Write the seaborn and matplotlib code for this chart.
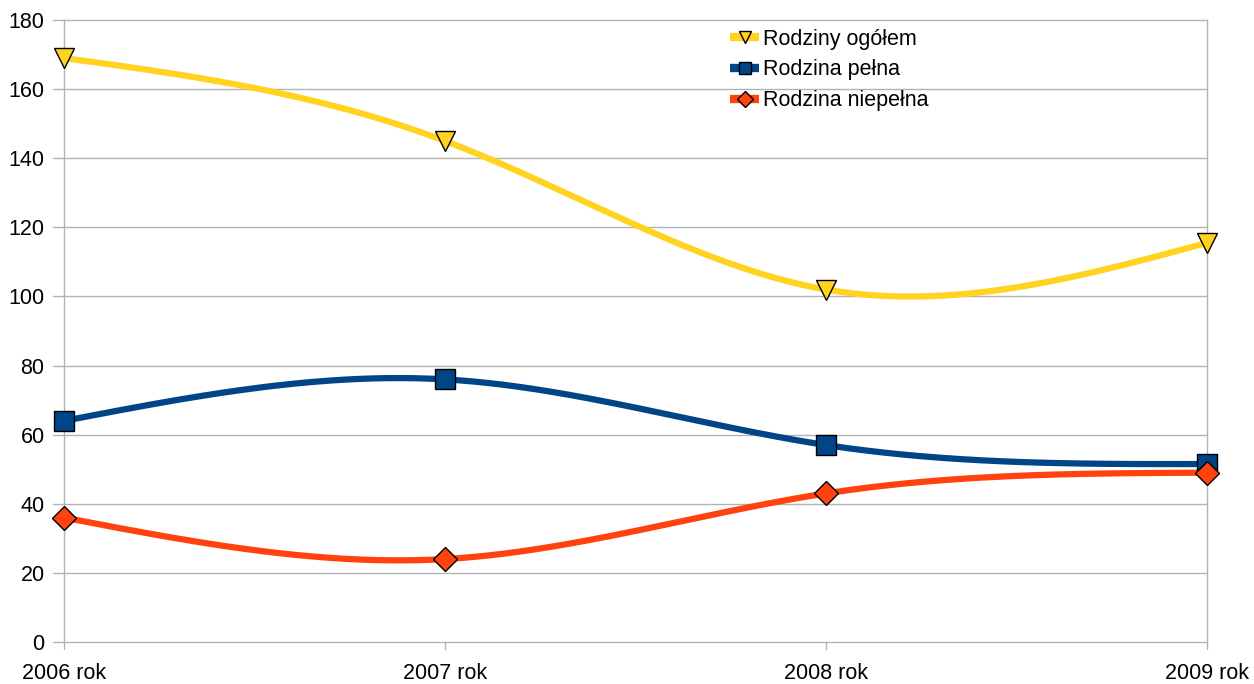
import numpy as np
import pandas as pd
import matplotlib
matplotlib.use("Agg")
import matplotlib.pyplot as plt
from matplotlib.lines import Line2D
import seaborn as sns

years = ["2006 rok", "2007 rok", "2008 rok", "2009 rok"]
series_names = ["Rodziny ogółem", "Rodzina pełna", "Rodzina niepełna"]
ogolem = [169, 145, 102, 115.5]
pelna = [64, 76, 57, 51.5]
niepelna = [36, 24, 43, 49]

colors = ["#FFD320", "#004586", "#FF420E"]
markers = ["v", "s", "D"]
msizes = [14, 14, 12]


def natural_spline(y, n=400):
    """Natural cubic spline through equally spaced points x = 0..len(y)-1."""
    y = np.asarray(y, float)
    k = len(y)
    A = np.zeros((k, k))
    b = np.zeros(k)
    A[0, 0] = A[-1, -1] = 1.0
    for i in range(1, k - 1):
        A[i, i - 1], A[i, i], A[i, i + 1] = 1.0, 4.0, 1.0
        b[i] = 6.0 * (y[i - 1] - 2 * y[i] + y[i + 1])
    M = np.linalg.solve(A, b)
    xs = np.linspace(0, k - 1, n)
    seg = np.minimum(xs.astype(int), k - 2)
    t = xs - seg
    ys = (y[seg] * (1 - t) + y[seg + 1] * t
          + ((1 - t) ** 3 - (1 - t)) * M[seg] / 6.0
          + (t ** 3 - t) * M[seg + 1] / 6.0)
    return xs, ys


sns.set_theme(style="white")
plt.rcParams["font.family"] = ["Liberation Sans", "DejaVu Sans"]
plt.rcParams["text.color"] = "black"

fig = plt.figure(figsize=(12.54, 6.84), dpi=100)
ax = fig.add_axes([64 / 1254, 1 - 642 / 684, (1207 - 64) / 1254, (642 - 20) / 684])

for v in np.arange(0, 181, 20):
    ax.axhline(v, color="#b3b3b3", lw=1.0, zorder=0, clip_on=False)

for name, vals, c, m, ms in zip(series_names, [ogolem, pelna, niepelna], colors, markers, msizes):
    xs, ys = natural_spline(vals)
    curve = pd.DataFrame({"x": xs, "y": ys})
    sns.lineplot(data=curve, x="x", y="y", ax=ax, color=c, lw=4.5, zorder=2,
                 solid_capstyle="butt")
    pts = pd.DataFrame({"x": np.arange(len(vals)), "y": vals})
    ax.plot(pts["x"], pts["y"], ls="none", marker=m, ms=ms, mfc=c, mec="black",
            mew=1.0, zorder=3, clip_on=False)

ax.set_xlim(0, 3)
ax.set_ylim(0, 180)
ax.set_xticks(range(4))
ax.set_xticklabels(years)
ax.set_yticks(np.arange(0, 181, 20))
ax.set_xlabel("")
ax.set_ylabel("")
ax.tick_params(axis="both", labelsize=15.5, colors="black", length=0)
ax.tick_params(axis="x", pad=15)
ax.tick_params(axis="y", pad=14)

for x in range(4):
    ax.plot([x, x], [0, -2], color="#b3b3b3", lw=1, clip_on=False, zorder=1)
for v in np.arange(0, 181, 20):
    ax.plot([0, -0.028], [v, v], color="#b3b3b3", lw=1, clip_on=False, zorder=1)

for s in ["top", "bottom"]:
    ax.spines[s].set_visible(False)
for s in ["left", "right"]:
    ax.spines[s].set_color("#b3b3b3")
    ax.spines[s].set_linewidth(1.0)

handles = [Line2D([], [], color=c, lw=6, marker=m, ms=ms * 0.65, mfc=c, mec="black",
                  mew=1.0, solid_capstyle="butt")
           for c, m, ms in zip(colors, markers, msizes)]
leg = ax.legend(handles, series_names, loc="upper left", bbox_to_anchor=(0.566, 1.017),
                frameon=False, fontsize=15.5, handlelength=1.35, handletextpad=0.15,
                labelspacing=0.45)
for t in leg.get_texts():
    t.set_color("black")

fig.savefig("out.png", dpi=100)
